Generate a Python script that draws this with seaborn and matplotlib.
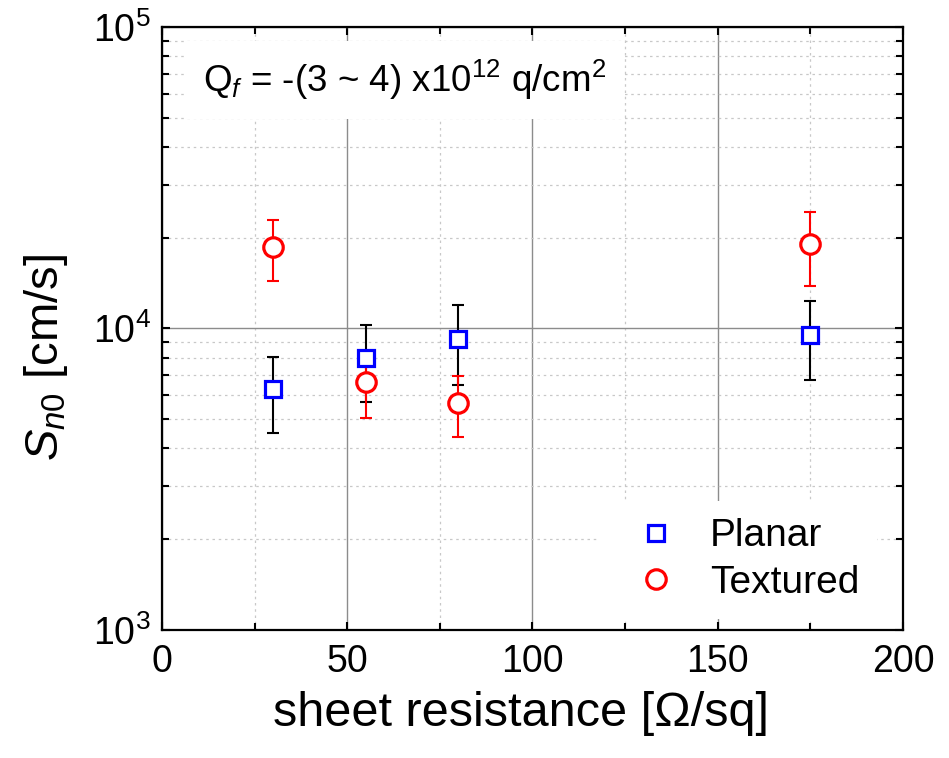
import matplotlib
matplotlib.use("Agg")
import matplotlib.pyplot as plt
import seaborn as sns
import pandas as pd
from matplotlib.ticker import LogLocator, MultipleLocator, NullFormatter

# sheet resistance [Ohm/sq]
planar_x = [30, 55, 80, 175]
planar_y = [6320, 8010, 9260, 9550]
planar_lo = [4490, 5720, 6500, 6750]
planar_hi = [8070, 10250, 12000, 12300]

textured_x = [30, 55, 80, 175]
textured_y = [18700, 6620, 5680, 19050]
textured_lo = [14400, 5060, 4350, 13800]
textured_hi = [22960, 8180, 6980, 24300]

sns.set_style("ticks")
plt.rcParams['font.family'] = ['Liberation Sans', 'DejaVu Sans']
plt.rcParams['mathtext.fontset'] = 'custom'
plt.rcParams['mathtext.rm'] = 'Liberation Sans'
plt.rcParams['mathtext.sf'] = 'Liberation Sans'
plt.rcParams['mathtext.it'] = 'Liberation Sans:italic'
plt.rcParams['mathtext.bf'] = 'Liberation Sans:bold'
for k in ['text.color', 'axes.labelcolor', 'xtick.color', 'ytick.color', 'axes.edgecolor']:
    plt.rcParams[k] = 'black'

fig = plt.figure(figsize=(9.49, 7.58), dpi=100)
ax = fig.add_axes([0.1707, 0.1689, 0.7808, 0.7955])

df = pd.concat([
    pd.DataFrame({'x': planar_x, 'y': planar_y, 'lo': planar_lo, 'hi': planar_hi, 'kind': 'Planar'}),
    pd.DataFrame({'x': textured_x, 'y': textured_y, 'lo': textured_lo, 'hi': textured_hi, 'kind': 'Textured'}),
])

styles = {
    'Planar': dict(marker='s', color='#0000ff', ecolor='black', ms=11.7),
    'Textured': dict(marker='o', color='#ff0000', ecolor='#ff0000', ms=14),
}

for kind, sub in df.groupby('kind'):
    st = styles[kind]
    yerr = [sub['y'] - sub['lo'], sub['hi'] - sub['y']]
    ax.errorbar(sub['x'], sub['y'], yerr=yerr, fmt='none', ecolor=st['ecolor'],
                elinewidth=1.5, capsize=4.5, capthick=1.5, zorder=3)
    ax.plot(sub['x'], sub['y'], linestyle='none', marker=st['marker'], ms=st['ms'],
            mfc='white', mec=st['color'], mew=2.3, label=kind, zorder=4)

ax.set_yscale('log')
ax.set_xlim(0, 200)
ax.set_ylim(1e3, 1e5)
ax.xaxis.set_major_locator(MultipleLocator(50))
ax.xaxis.set_minor_locator(MultipleLocator(25))
ax.yaxis.set_major_locator(LogLocator(base=10, numticks=10))
ax.yaxis.set_minor_locator(LogLocator(base=10, subs=range(2, 10), numticks=20))
ax.yaxis.set_minor_formatter(NullFormatter())

ax.grid(which='major', color='#8c8c8c', linestyle='-', linewidth=1.0, zorder=0)
ax.grid(which='minor', color='#c8c8c8', linestyle=(0, (2, 3)), linewidth=0.9, zorder=0)
ax.set_axisbelow(True)

ax.tick_params(which='both', direction='in', top=True, right=True, width=1.5)
ax.tick_params(which='major', length=6, labelsize=27)
ax.tick_params(axis='x', which='major', pad=10)
ax.tick_params(axis='y', which='major', pad=8)
ax.tick_params(which='minor', length=5)
for sp in ax.spines.values():
    sp.set_linewidth(1.6)
    sp.set_zorder(6)

ax.set_xlabel('sheet resistance [\u03a9/sq]', fontsize=35)
ax.set_ylabel(r'$\it{S_{n0}}$ [cm/s]', fontsize=34)
ax.xaxis.set_label_coords(0.484, -0.102)
ax.yaxis.set_label_coords(-0.124, 0.452)

ax.text(0.055, 0.912, r'$\mathsf{Q}_{f}$ = -(3 ~ 4) x10$^{\mathsf{12}}$ q/cm$^{\mathsf{2}}$',
        transform=ax.transAxes, fontsize=26.5, ha='left', va='center', zorder=5,
        bbox=dict(boxstyle='square,pad=0.45', facecolor='white', edgecolor='none'))

leg = ax.legend(loc='lower right', fontsize=28, frameon=True, fancybox=False,
                edgecolor='none', framealpha=1, borderpad=0.45, handletextpad=0.4,
                handlelength=2.0, labelspacing=0.28, borderaxespad=0.0,
                bbox_to_anchor=(0.965, 0.019))
leg.set_zorder(5)

fig.savefig('out.png', dpi=100)
